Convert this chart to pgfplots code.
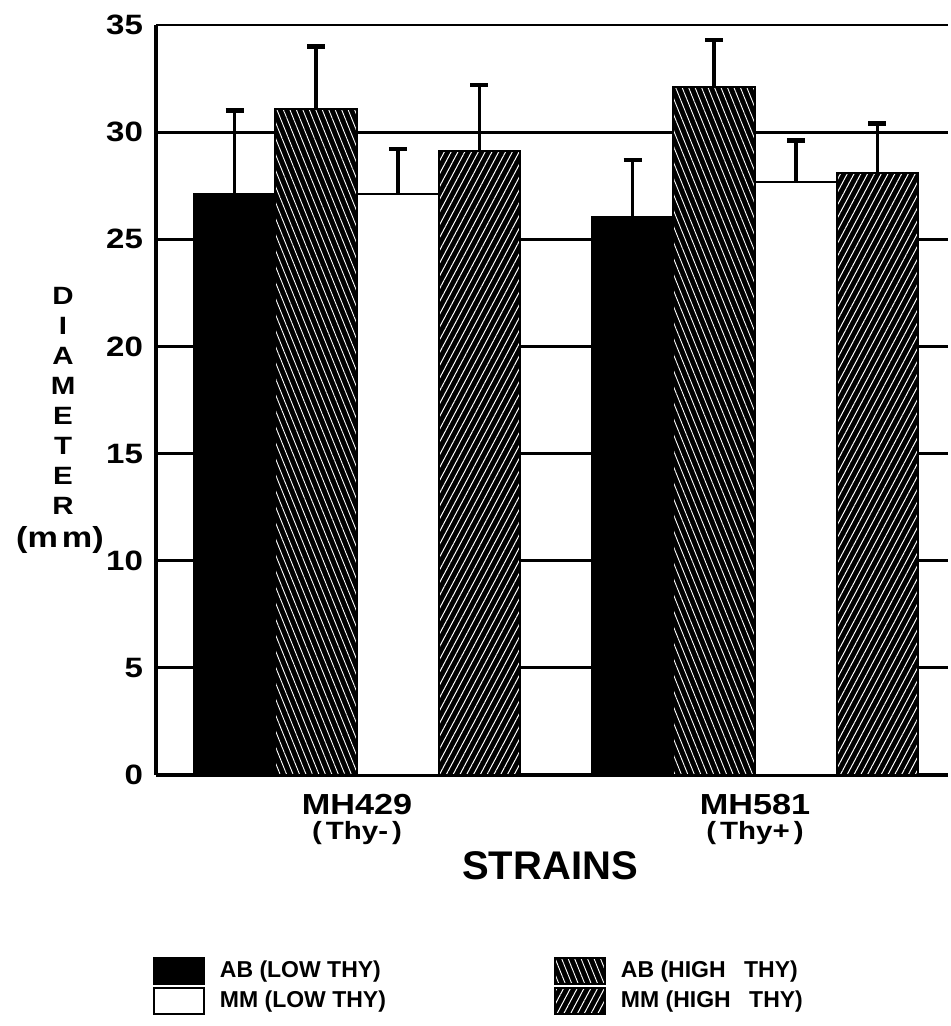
\documentclass[border=0pt]{standalone}
\usepackage{fontspec}
\setmainfont{Liberation Sans}
\newfontfamily\widefont{Liberation Sans}[FakeStretch=1.18]
\usepackage{pgfplots}
\pgfplotsset{compat=1.18}
\usetikzlibrary{patterns.meta}
\begin{document}
\begin{tikzpicture}
\begin{axis}[
  scale only axis,
  width=396pt, height=375pt,
  xmin=0.495, xmax=2.485,
  ymin=0, ymax=35,
  clip=false,
  axis x line=bottom, axis y line=left,
  axis line style={-, line width=2.4pt},
  ytick={0,5,...,35},
  xtick={1,2},
  major tick length=0pt,
  ymajorgrids,
  grid style={line width=1.4pt, black},
  /pgf/number format/assume math mode=true,
  yticklabel style={font=\widefont\bfseries\fontsize{14}{15}\selectfont, xshift=-3pt},
  xticklabels={{MH429\\{\fontsize{12.5}{12}\selectfont(\hspace{2pt}Thy-\hspace{2pt})}},{MH581\\{\fontsize{12.5}{12}\selectfont(\hspace{2pt}Thy+\hspace{2pt})}}},
  xticklabel style={align=center, font=\widefont\bfseries\fontsize{14.5}{12.5}\selectfont, yshift=-6pt},
  xlabel={STRAINS},
  xlabel style={at={(rel axis cs:0.4975,-0.14)}, anchor=base, font=\bfseries\fontsize{20}{22}\selectfont},
  legend columns=2,
  legend style={at={(rel axis cs:-0.012,-0.237)}, anchor=north west, draw=none,
    font=\bfseries\fontsize{11.5}{13}\selectfont, row sep=1pt,
    /tikz/every odd column/.append style={column sep=5.5pt},
    /tikz/every even column/.append style={column sep=82pt}},
  legend cell align=left,
  legend image code/.code={\draw[#1] (0pt,-6.5pt) rectangle (25pt,6.5pt);},
  error bars/y dir=plus, error bars/y explicit,
  error bars/error bar style={line width=1.8pt, black},
  error bars/error mark options={line width=2.2pt, mark size=4.5pt, black, rotate=90},
]
\addplot[ybar, bar width=0.205, bar shift=0pt, draw=black, line width=1pt, fill=black]
  coordinates {(0.6925,27.1) +- (0,3.9) (1.6925,26.05) +- (0,2.65)};
\addlegendentry{AB (LOW THY)}
\addplot[ybar, bar width=0.205, bar shift=0pt, draw=black, line width=1pt, fill=black,
  postaction={pattern={Lines[angle=-68,distance=3pt,line width=0.45pt]}, pattern color=white}]
  coordinates {(0.8975,31.1) +- (0,2.9) (1.8975,32.1) +- (0,2.2)};
\addlegendentry{AB (HIGH \hspace{6pt}THY)}
\addplot[ybar, bar width=0.205, bar shift=0pt, draw=black, line width=1pt, fill=white]
  coordinates {(1.1025,27.1) +- (0,2.1) (2.1025,27.65) +- (0,1.95)};
\addlegendentry{MM (LOW THY)}
\addplot[ybar, bar width=0.205, bar shift=0pt, draw=black, line width=1pt, fill=black,
  postaction={pattern={Lines[angle=62,distance=3pt,line width=0.5pt]}, pattern color=white}]
  coordinates {(1.3075,29.1) +- (0,3.1) (2.3075,28.1) +- (0,2.3)};
\addlegendentry{MM (HIGH \hspace{6pt}THY)}
\node[anchor=north, align=center, inner sep=0pt, font=\widefont\bfseries\fontsize{12.5}{15}\selectfont]
  at (rel axis cs:-0.1174,0.6507) {D\\I\\A\\M\\E\\T\\E\\R};
\node[anchor=base, inner sep=0pt, font=\widefont\bfseries\fontsize{14.5}{16}\selectfont]
  at (rel axis cs:-0.1212,0.3033) {(m\hspace{2pt}m)};
\path (rel axis cs:-0.197,1.0333) rectangle (rel axis cs:1,-0.3347);
\end{axis}
\end{tikzpicture}
\end{document}
